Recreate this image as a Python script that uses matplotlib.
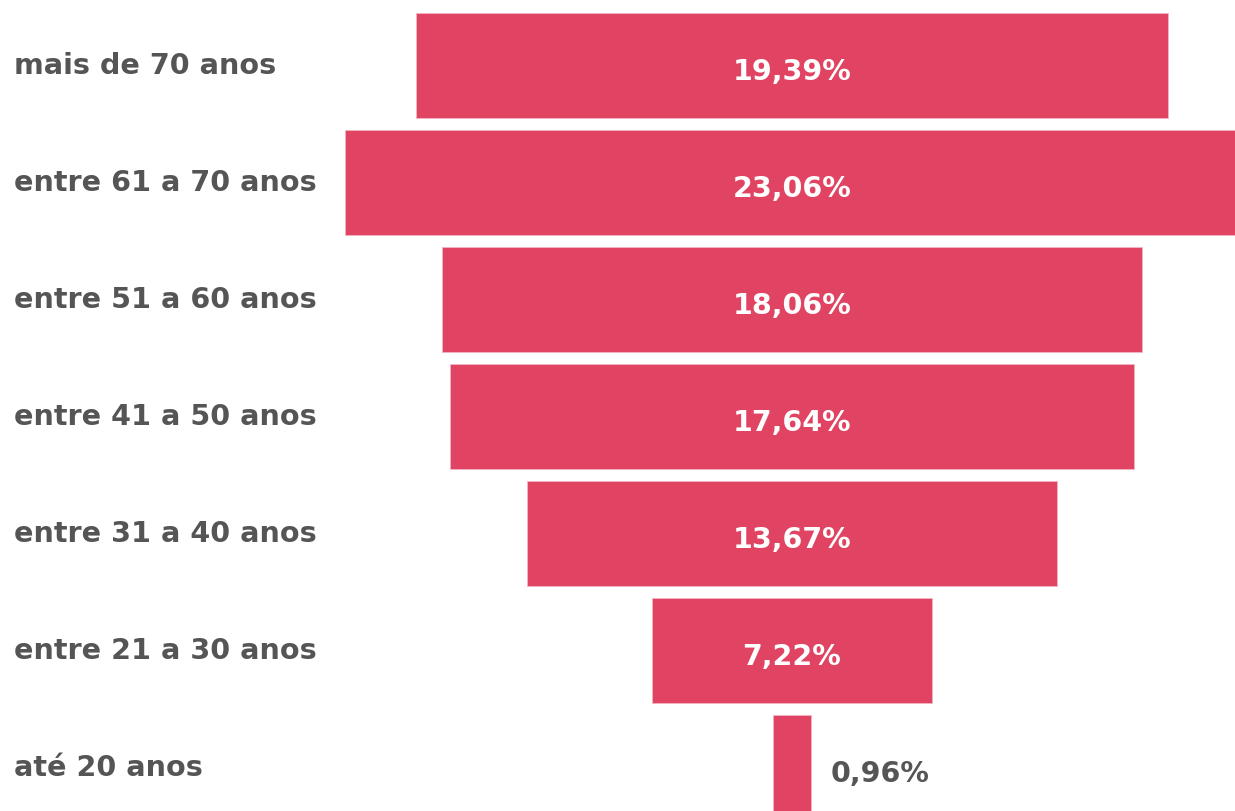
import matplotlib.pyplot as plt

# Faixa etaria dos eleitores
faixas = ['mais de 70 anos', 'entre 61 a 70 anos', 'entre 51 a 60 anos',
          'entre 41 a 50 anos', 'entre 31 a 40 anos', 'entre 21 a 30 anos',
          'até 20 anos']
valores = [19.39, 23.06, 18.06, 17.64, 13.67, 7.22, 0.96]
rotulos = ['19,39%', '23,06%', '18,06%', '17,64%', '13,67%', '7,22%', '0,96%']

cor_barra = '#E04462'
cor_texto = '#555555'

plt.rcParams['font.family'] = ['DejaVu Sans']

fig = plt.figure(figsize=(12.35, 8.12), dpi=100)
ax = fig.add_axes([0, 0, 1, 1])

pos = list(range(len(faixas)))
esq = [-v / 2 for v in valores]
ax.barh(pos, valores, left=esq, height=0.9, color=cor_barra, edgecolor='#F2B5C2', linewidth=0.6)

escala = 38.77  # pixels por ponto percentual
ax.set_xlim(-792 / escala, (1235 - 792) / escala)
ax.set_ylim((812 - 66.5) / 117, -66.5 / 117)
ax.axis('off')

for i, (v, r) in enumerate(zip(valores, rotulos)):
    if v > 3:
        ax.text(0, i + 0.05, r, ha='center', va='center', color='white',
                fontsize=20.5, fontweight='bold')
    else:
        ax.text(v / 2 + 20 / escala, i + 0.05, r, ha='left', va='center',
                color=cor_texto, fontsize=20.5, fontweight='bold')
    ax.text(14 / 1235, 1 - (66 + 117 * i) / 812, faixas[i], transform=ax.transAxes,
            ha='left', va='center', color=cor_texto, fontsize=20.6, fontweight='bold')

fig.savefig('out.png', dpi=100, facecolor='white')
